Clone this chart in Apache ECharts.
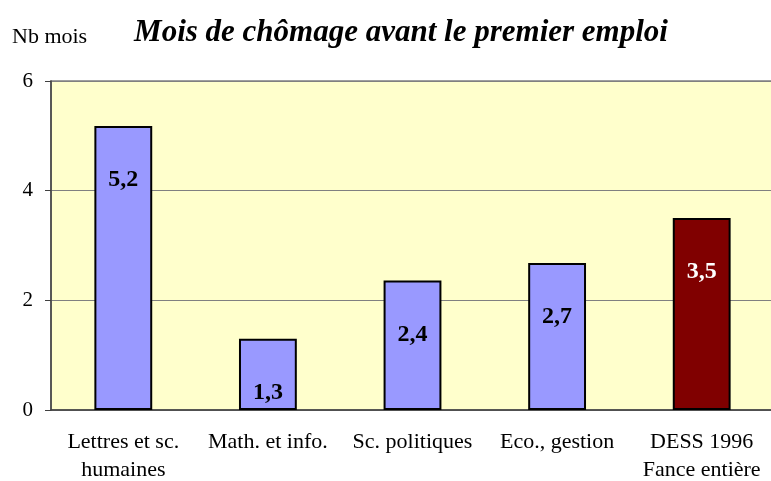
<!DOCTYPE html>
<html>
<head>
<meta charset="utf-8">
<script src="https://cdn.jsdelivr.net/npm/echarts@6/dist/echarts.min.js"></script>
<style>html,body{margin:0;padding:0;background:#fff}#c{width:771px;height:481px}</style>
</head>
<body>
<div id="c"></div>
<script>
const categories = ["Lettres et sc.\nhumaines", "Math. et info.", "Sc. politiques", "Eco., gestion", "DESS 1996\nFance entière"];
const values = [5.18, 1.3, 2.36, 2.68, 3.5];
const barColors = ["#9999FF", "#9999FF", "#9999FF", "#9999FF", "#800000"];
const labelColors = ["#000", "#000", "#000", "#000", "#fff"];
const yTicks = [0, 2, 4, 6];

const serif = "Liberation Serif";
const chart = echarts.init(document.getElementById('c'));
chart.setOption({
  animation: false,
  title: {
    text: "Mois de chômage avant le premier emploi",
    left: 396, top: 12, textAlign: 'center',
    textStyle: {fontFamily: serif, fontSize: 31, fontWeight: 'bold', fontStyle: 'italic', color: '#000'}
  },
  grid: {left: 51, top: 81, bottom: 71, right: -3, outerBoundsMode: 'none', containLabel: false,
         show: true, backgroundColor: '#FFFFCC', borderColor: '#808080', borderWidth: 1.5},
  xAxis: {
    type: 'category', data: categories,
    axisLine: {lineStyle: {color: '#404040', width: 1.5}},
    axisTick: {inside: true, length: 5, lineStyle: {color: '#404040'}},
    axisLabel: {interval: 0, fontFamily: serif, fontSize: 22, color: '#000', margin: 18, lineHeight: 28, hideOverlap: false}
  },
  yAxis: {
    type: 'value', min: yTicks[0], max: yTicks[yTicks.length - 1], interval: 2,
    name: 'Nb mois', nameLocation: 'end', nameGap: 33,
    nameTextStyle: {fontFamily: serif, fontSize: 22, color: '#000', align: 'left', padding: [0, 0, 0, -39]},
    axisLine: {show: true, lineStyle: {color: '#404040', width: 1.5}},
    axisTick: {show: true, length: 6, lineStyle: {color: '#404040'}},
    axisLabel: {fontFamily: serif, fontSize: 21, color: '#000', margin: 18},
    splitLine: {show: true, lineStyle: {color: '#808080', width: 1.2}}
  },
  series: [{
    type: 'bar',
    barCategoryGap: '60%',
    data: values.map((v, i) => ({
      value: v,
      itemStyle: {color: barColors[i]},
      label: {color: labelColors[i]}
    })),
    itemStyle: {borderColor: '#000', borderWidth: 2},
    label: {
      show: true, position: 'insideTop', distance: 42,
      fontFamily: serif, fontSize: 24, fontWeight: 'bold',
      formatter: p => p.value.toFixed(1).replace('.', ',')
    }
  }]
});
</script>
</body>
</html>
